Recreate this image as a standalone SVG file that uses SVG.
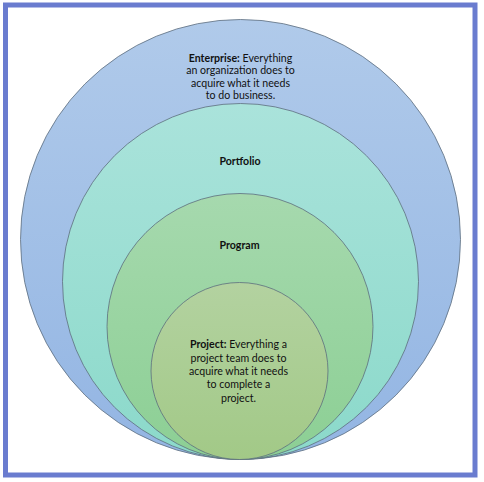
<svg xmlns="http://www.w3.org/2000/svg" width="484" height="482" viewBox="0 0 484 482">
<defs>
<linearGradient id="gEnt" x1="0" y1="0" x2="0" y2="1"><stop offset="0" stop-color="#b0caea"/><stop offset="1" stop-color="#93b5e3"/></linearGradient>
<linearGradient id="gPort" x1="0" y1="0" x2="0" y2="1"><stop offset="0" stop-color="#aae3db"/><stop offset="1" stop-color="#8bd9ca"/></linearGradient>
<linearGradient id="gProg" x1="0" y1="0" x2="0" y2="1"><stop offset="0" stop-color="#a6d9ae"/><stop offset="1" stop-color="#8ccf94"/></linearGradient>
<linearGradient id="gProj" x1="0" y1="0" x2="0" y2="1"><stop offset="0" stop-color="#b3d2a0"/><stop offset="1" stop-color="#a2c987"/></linearGradient>
<style>
.c{stroke:#5d6d7e;stroke-width:0.8}
.t{font-family:Lato,"Open Sans","Liberation Sans",sans-serif;font-size:10.6px;fill:#111;text-anchor:middle}
.b{font-weight:bold}
</style>
</defs>
<rect width="484" height="482" fill="#ffffff"/>
<rect x="5.5" y="5" width="469.5" height="470" fill="none" stroke="#6a7ccf" stroke-width="5"/>
<g id="enterprise">
<circle class="c" cx="240.5" cy="239.5" r="220" fill="url(#gEnt)"/>
<text class="t" x="240.5" y="61.5"><tspan class="b">Enterprise:</tspan> Everything</text>
<text class="t" x="240.5" y="74">an organization does to</text>
<text class="t" x="240.5" y="86.5">acquire what it needs</text>
<text class="t" x="240.5" y="99">to do business.</text>
</g>
<g id="portfolio">
<circle class="c" cx="240.5" cy="281.5" r="178" fill="url(#gPort)"/>
<text class="t b" x="240" y="164.5">Portfolio</text>
</g>
<g id="program">
<circle class="c" cx="240" cy="326.5" r="133" fill="url(#gProg)"/>
<text class="t b" x="239.5" y="249">Program</text>
</g>
<g id="project">
<circle class="c" cx="239.5" cy="371" r="88.5" fill="url(#gProj)"/>
<text class="t" x="238.5" y="348.3"><tspan class="b">Project:</tspan> Everything a</text>
<text class="t" x="238.5" y="361.6">project team does to</text>
<text class="t" x="238.5" y="374.9">acquire what it needs</text>
<text class="t" x="238.5" y="388.2">to complete a</text>
<text class="t" x="238.5" y="401.5">project.</text>
</g>
<g id="connectors"/>
</svg>
